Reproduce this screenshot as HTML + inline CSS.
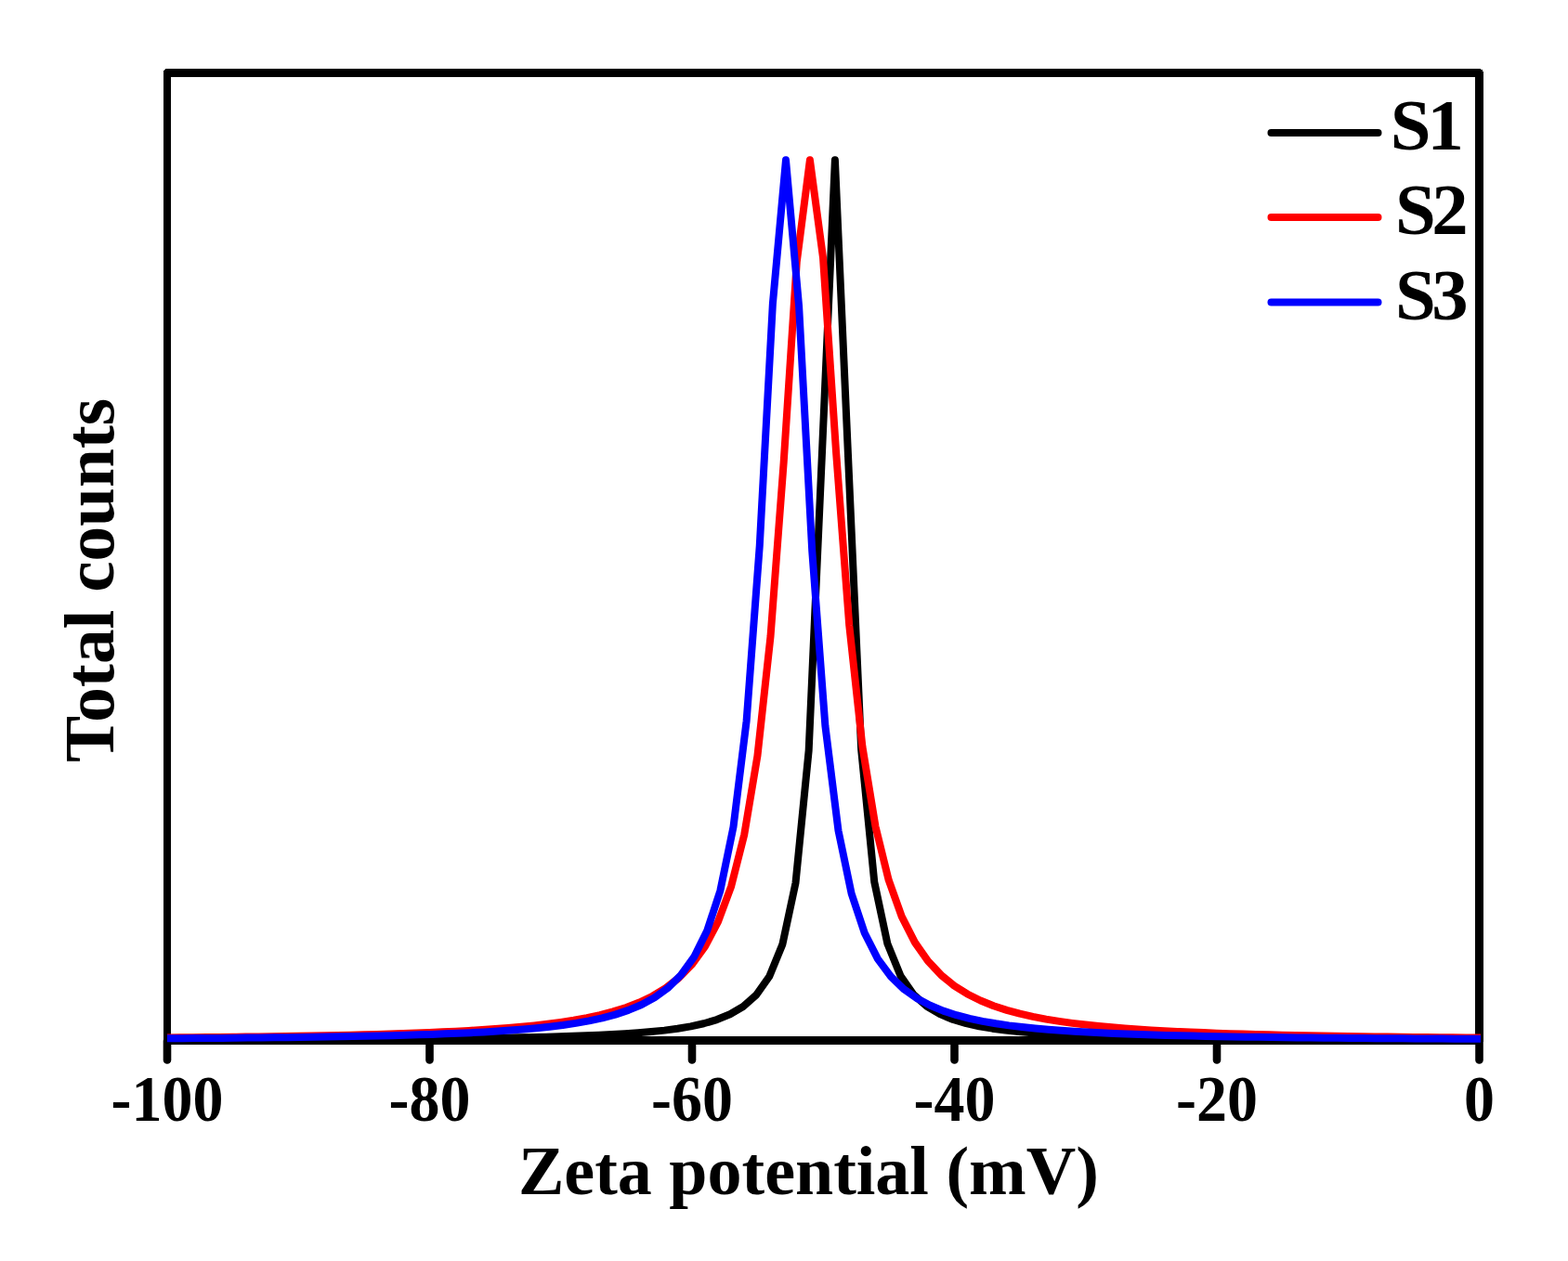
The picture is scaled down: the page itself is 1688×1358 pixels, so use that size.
<!DOCTYPE html>
<html><head><meta charset="utf-8"><style>
html,body{margin:0;padding:0;background:#fff;width:1688px;height:1358px;overflow:hidden}
svg{display:block}
text{font-family:"Liberation Serif","Times New Roman",serif;font-weight:bold;fill:#000}
</style></head><body>
<svg width="1688" height="1358" viewBox="0 0 1688 1358">
<defs><clipPath id="c"><rect x="180" y="60" width="1414" height="1080"/></clipPath></defs>
<rect x="180" y="78.5" width="1412.5" height="1042" fill="none" stroke="#000" stroke-width="8.6" stroke-linejoin="round" shape-rendering="crispEdges"/>
<line x1="180.00" y1="1121" x2="180.00" y2="1141.5" stroke="#000" stroke-width="8.6" stroke-linecap="round"/><line x1="462.50" y1="1121" x2="462.50" y2="1141.5" stroke="#000" stroke-width="8.6" stroke-linecap="round"/><line x1="745.00" y1="1121" x2="745.00" y2="1141.5" stroke="#000" stroke-width="8.6" stroke-linecap="round"/><line x1="1027.50" y1="1121" x2="1027.50" y2="1141.5" stroke="#000" stroke-width="8.6" stroke-linecap="round"/><line x1="1310.00" y1="1121" x2="1310.00" y2="1141.5" stroke="#000" stroke-width="8.6" stroke-linecap="round"/><line x1="1592.50" y1="1121" x2="1592.50" y2="1141.5" stroke="#000" stroke-width="8.6" stroke-linecap="round"/>
<g clip-path="url(#c)">
<polyline points="150.27,1119.84 164.40,1119.81 178.52,1119.78 192.65,1119.76 206.77,1119.73 220.90,1119.69 235.02,1119.66 249.15,1119.62 263.27,1119.58 277.40,1119.54 291.52,1119.49 305.65,1119.45 319.77,1119.39 333.90,1119.34 348.02,1119.28 362.15,1119.21 376.27,1119.14 390.40,1119.07 404.52,1118.98 418.65,1118.89 432.77,1118.79 446.90,1118.69 461.02,1118.57 475.15,1118.44 489.27,1118.29 503.40,1118.13 517.52,1117.95 531.65,1117.75 545.77,1117.53 559.90,1117.28 574.02,1116.99 588.15,1116.67 602.27,1116.30 616.40,1115.87 630.52,1115.37 644.65,1114.79 658.77,1114.10 672.90,1113.28 687.02,1112.30 701.15,1111.10 715.27,1109.61 729.40,1107.75 743.52,1105.36 757.65,1102.25 771.77,1098.06 785.90,1092.28 800.02,1083.98 814.15,1071.47 828.27,1051.47 842.40,1016.88 856.52,950.72 870.65,808.36 884.77,492.32 898.90,172.30 913.02,491.03 927.15,807.09 941.27,949.87 955.40,1016.32 969.52,1051.08 983.65,1071.19 997.77,1083.76 1011.90,1092.12 1026.03,1097.93 1040.15,1102.14 1054.28,1105.27 1068.40,1107.67 1082.53,1109.55 1096.65,1111.04 1110.78,1112.25 1124.90,1113.24 1139.03,1114.06 1153.15,1114.76 1167.28,1115.34 1181.40,1115.84 1195.53,1116.27 1209.65,1116.65 1223.78,1116.97 1237.90,1117.26 1252.03,1117.51 1266.15,1117.74 1280.28,1117.94 1294.40,1118.12 1308.53,1118.28 1322.65,1118.42 1336.78,1118.56 1350.90,1118.67 1365.03,1118.78 1379.15,1118.88 1393.28,1118.97 1407.40,1119.06 1421.53,1119.13 1435.65,1119.20 1449.78,1119.27 1463.90,1119.33 1478.03,1119.39 1492.15,1119.44 1506.28,1119.49 1520.40,1119.53 1534.53,1119.58 1548.65,1119.62 1562.78,1119.65 1576.90,1119.69 1591.03,1119.72 1605.15,1119.75 1619.28,1119.78" fill="none" stroke="#000000" stroke-width="8" stroke-linejoin="round" stroke-linecap="butt"/>
<polyline points="151.52,1117.72 165.65,1117.61 179.77,1117.49 193.90,1117.37 208.02,1117.23 222.15,1117.09 236.27,1116.94 250.40,1116.78 264.52,1116.60 278.65,1116.41 292.77,1116.21 306.90,1116.00 321.02,1115.76 335.15,1115.51 349.27,1115.24 363.40,1114.95 377.52,1114.63 391.65,1114.28 405.77,1113.90 419.90,1113.48 434.02,1113.03 448.15,1112.52 462.27,1111.97 476.40,1111.35 490.52,1110.67 504.65,1109.91 518.77,1109.06 532.90,1108.10 547.02,1107.01 561.15,1105.77 575.27,1104.36 589.40,1102.74 603.52,1100.86 617.65,1098.67 631.77,1096.09 645.90,1093.04 660.02,1089.38 674.15,1084.95 688.27,1079.51 702.40,1072.76 716.52,1064.22 730.65,1053.24 744.77,1038.82 758.90,1019.44 773.02,992.67 787.15,954.59 801.27,898.66 815.40,814.19 829.52,685.30 843.65,498.28 857.77,282.11 871.90,172.30 886.02,277.38 900.15,487.75 914.27,673.60 928.40,803.82 942.52,890.12 956.65,947.69 970.77,987.08 984.90,1014.87 999.02,1035.04 1013.15,1050.07 1027.28,1061.54 1041.40,1070.46 1055.53,1077.52 1069.65,1083.21 1083.78,1087.85 1097.90,1091.69 1112.03,1094.89 1126.15,1097.59 1140.28,1099.88 1154.40,1101.85 1168.53,1103.56 1182.65,1105.04 1196.78,1106.33 1210.90,1107.47 1225.03,1108.48 1239.15,1109.38 1253.28,1110.18 1267.40,1110.89 1281.53,1111.54 1295.65,1112.12 1309.78,1112.65 1323.90,1113.13 1338.03,1113.57 1352.15,1113.96 1366.28,1114.33 1380.40,1114.67 1394.53,1114.98 1408.65,1115.26 1422.78,1115.52 1436.90,1115.77 1451.03,1116.00 1465.15,1116.21 1479.28,1116.40 1493.40,1116.59 1507.53,1116.76 1521.65,1116.92 1535.78,1117.07 1549.90,1117.21 1564.03,1117.34 1578.15,1117.47 1592.28,1117.58 1606.40,1117.69" fill="none" stroke="#ff0000" stroke-width="8" stroke-linejoin="round" stroke-linecap="butt"/>
<polyline points="153.88,1118.48 168.00,1118.40 182.12,1118.30 196.25,1118.21 210.38,1118.11 224.50,1118.00 238.62,1117.88 252.75,1117.75 266.88,1117.62 281.00,1117.47 295.12,1117.32 309.25,1117.15 323.38,1116.96 337.50,1116.76 351.62,1116.55 365.75,1116.31 379.88,1116.06 394.00,1115.78 408.12,1115.47 422.25,1115.13 436.38,1114.76 450.50,1114.34 464.62,1113.88 478.75,1113.36 492.88,1112.79 507.00,1112.14 521.12,1111.40 535.25,1110.56 549.38,1109.61 563.50,1108.50 577.62,1107.22 591.75,1105.73 605.88,1103.97 620.00,1101.89 634.12,1099.38 648.25,1096.33 662.38,1092.59 676.50,1087.91 690.62,1081.96 704.75,1074.27 718.88,1064.07 733.00,1050.19 747.12,1030.70 761.25,1002.31 775.38,959.16 789.50,890.43 803.62,776.42 817.75,587.90 831.88,327.08 846.00,172.30 860.12,330.12 874.25,593.34 888.38,781.51 902.50,894.46 916.62,962.25 930.75,1004.70 944.88,1032.57 959.00,1051.69 973.12,1065.29 987.25,1075.28 1001.38,1082.81 1015.50,1088.63 1029.62,1093.21 1043.75,1096.88 1057.88,1099.85 1072.00,1102.31 1086.12,1104.35 1100.25,1106.07 1114.38,1107.53 1128.50,1108.78 1142.62,1109.85 1156.75,1110.79 1170.88,1111.61 1185.00,1112.33 1199.12,1112.96 1213.25,1113.53 1227.38,1114.03 1241.50,1114.48 1255.62,1114.89 1269.75,1115.25 1283.88,1115.58 1298.00,1115.89 1312.12,1116.16 1326.25,1116.41 1340.38,1116.64 1354.50,1116.85 1368.62,1117.04 1382.75,1117.22 1396.88,1117.39 1411.00,1117.54 1425.12,1117.68 1439.25,1117.82 1453.38,1117.94 1467.50,1118.05 1481.62,1118.16 1495.75,1118.26 1509.88,1118.36 1524.00,1118.44 1538.12,1118.53 1552.25,1118.60 1566.38,1118.68 1580.50,1118.75 1594.62,1118.81 1608.75,1118.87" fill="none" stroke="#0000ff" stroke-width="8" stroke-linejoin="round" stroke-linecap="butt"/>
</g>
<g font-size="66"><text transform="translate(180.00,1206.5) scale(1,1.065)" text-anchor="middle">-100</text><text transform="translate(462.50,1206.5) scale(1,1.065)" text-anchor="middle">-80</text><text transform="translate(745.00,1206.5) scale(1,1.065)" text-anchor="middle">-60</text><text transform="translate(1027.50,1206.5) scale(1,1.065)" text-anchor="middle">-40</text><text transform="translate(1310.00,1206.5) scale(1,1.065)" text-anchor="middle">-20</text><text transform="translate(1592.50,1206.5) scale(1,1.065)" text-anchor="middle">0</text></g>
<text x="558" y="1286" font-size="74">Zeta potential (mV)</text>
<text transform="translate(122,821) rotate(-90)" font-size="75.2">Total counts</text>
<line x1="1368.5" y1="142.9" x2="1483.5" y2="142.9" stroke="#000" stroke-width="8" stroke-linecap="round"/>
<line x1="1368.5" y1="234" x2="1483.5" y2="234" stroke="#ff0000" stroke-width="8" stroke-linecap="round"/>
<line x1="1368.5" y1="325.5" x2="1483.5" y2="325.5" stroke="#0000ff" stroke-width="8" stroke-linecap="round"/>
<g font-size="78.7">
<text x="1496.8 1536.4" y="161">S1</text>
<text x="1501.9 1541.2" y="252.1">S2</text>
<text x="1501.9 1541.2" y="344.2">S3</text>
</g>
</svg>
</body></html>
